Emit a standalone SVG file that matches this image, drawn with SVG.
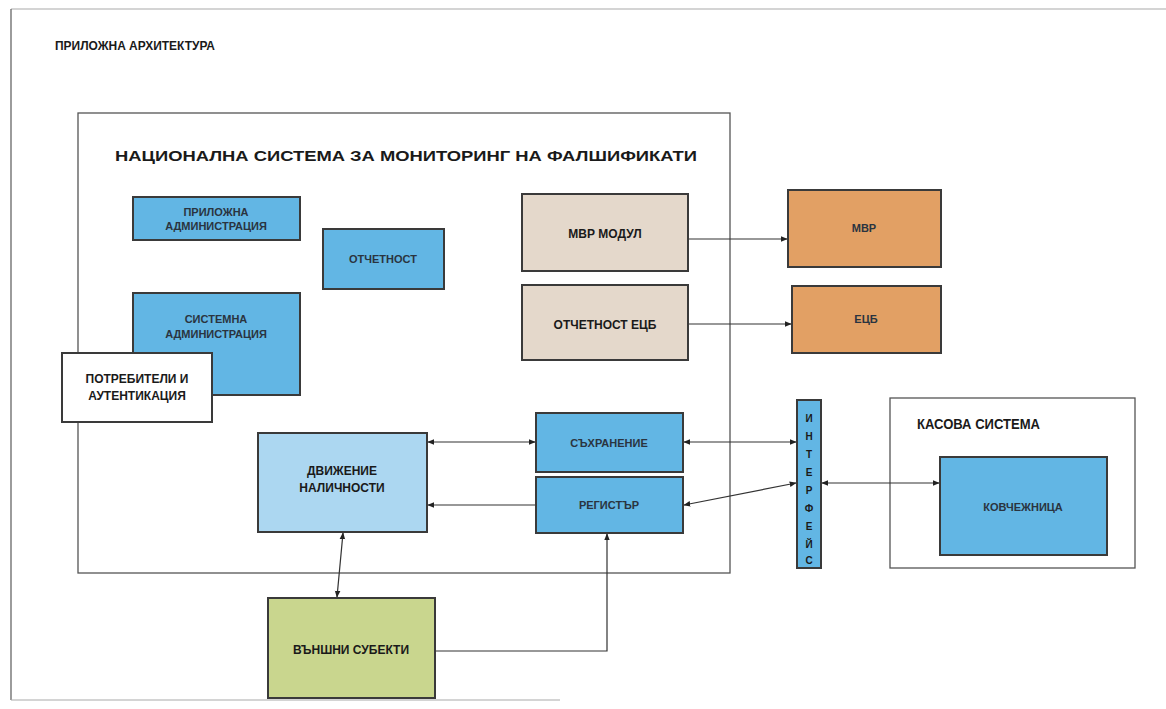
<svg xmlns="http://www.w3.org/2000/svg" width="1166" height="709" viewBox="0 0 1166 709">
<defs>
<marker id="ah" viewBox="0 0 10 10" refX="9" refY="5" markerWidth="7" markerHeight="7" orient="auto-start-reverse" markerUnits="userSpaceOnUse">
<path d="M0,1 L10,5 L0,9 z" fill="#222"/>
</marker>
<style>
.t{font-family:"Liberation Sans","Open Sans",Arial,sans-serif;font-weight:bold;fill:#1a1a1a}
.b{font-size:12px;text-anchor:middle}
.s{font-size:11px;fill:#2a3440}
.box{stroke:#3a3a3a;stroke-width:2}
.blue{fill:#62b6e4}
.lblue{fill:#acd7f1}
.beige{fill:#e4d8cb}
.orange{fill:#e2a064}
.green{fill:#c9d68e}
.white{fill:#ffffff}
.frame{fill:none;stroke:#555;stroke-width:1.3}
.c{fill:none;stroke:#333;stroke-width:1.2}
</style>
</defs>
<rect width="1166" height="709" fill="#ffffff"/>
<g id="page-frame">
<path fill="none" stroke="#aaa" stroke-width="1.2" d="M11,9 H1166"/>
<path fill="none" stroke="#666" stroke-width="1.3" d="M11,9 V700"/>
<path fill="none" stroke="#aaa" stroke-width="1.2" d="M11,700 H560"/>
<text class="t" x="55" y="50" font-size="12" textLength="160" lengthAdjust="spacingAndGlyphs">ПРИЛОЖНА АРХИТЕКТУРА</text>
</g>
<g id="nsmf">
<rect class="frame" x="78" y="113" width="652" height="460"/>
<text class="t" x="115" y="161" font-size="15" textLength="582" lengthAdjust="spacingAndGlyphs">НАЦИОНАЛНА СИСТЕМА ЗА МОНИТОРИНГ НА ФАЛШИФИКАТИ</text>
</g>
<g id="kasova">
<rect class="frame" x="890" y="398" width="245" height="170"/>
<text class="t" x="917" y="429" font-size="14" textLength="123" lengthAdjust="spacingAndGlyphs">КАСОВА СИСТЕМА</text>
</g>
<g id="connectors">
<line class="c" x1="688" y1="239" x2="787" y2="239" marker-end="url(#ah)"/>
<line class="c" x1="688" y1="324" x2="791" y2="324" marker-end="url(#ah)"/>
<line class="c" x1="428" y1="442" x2="535" y2="442" marker-start="url(#ah)" marker-end="url(#ah)"/>
<line class="c" x1="536" y1="505" x2="428" y2="505" marker-end="url(#ah)"/>
<line class="c" x1="684" y1="442" x2="796" y2="442" marker-start="url(#ah)" marker-end="url(#ah)"/>
<line class="c" x1="684" y1="505" x2="796" y2="483" marker-start="url(#ah)" marker-end="url(#ah)"/>
<line class="c" x1="822" y1="483" x2="939" y2="483" marker-start="url(#ah)" marker-end="url(#ah)"/>
<line class="c" x1="343" y1="533" x2="337" y2="597" marker-start="url(#ah)" marker-end="url(#ah)"/>
<path class="c" d="M436,651 H607 V534" marker-end="url(#ah)"/>
</g>
<g id="prilozhna-admin">
<rect class="box blue" x="133" y="197" width="167" height="43"/>
<text class="t b s" x="216" y="216">ПРИЛОЖНА</text>
<text class="t b s" x="216" y="230">АДМИНИСТРАЦИЯ</text>
</g>
<g id="otchetnost">
<rect class="box blue" x="323" y="229" width="121" height="60"/>
<text class="t b s" x="383" y="263">ОТЧЕТНОСТ</text>
</g>
<g id="sistemna-admin">
<rect class="box blue" x="133" y="293" width="167" height="102"/>
<text class="t b s" x="216" y="323">СИСТЕМНА</text>
<text class="t b s" x="216" y="338">АДМИНИСТРАЦИЯ</text>
</g>
<g id="potrebiteli">
<rect class="box white" x="62" y="353" width="150" height="69" stroke-width="1.3"/>
<text class="t b" x="137" y="383">ПОТРЕБИТЕЛИ И</text>
<text class="t b" x="137" y="400">АУТЕНТИКАЦИЯ</text>
</g>
<g id="mvr-modul">
<rect class="box beige" x="522" y="194" width="166" height="77"/>
<text class="t b" x="605" y="238">МВР МОДУЛ</text>
</g>
<g id="otchetnost-ecb">
<rect class="box beige" x="522" y="285" width="166" height="75"/>
<text class="t b" x="605" y="329">ОТЧЕТНОСТ ЕЦБ</text>
</g>
<g id="mvr">
<rect class="box orange" x="788" y="190" width="153" height="77"/>
<text class="t b s" x="864" y="232">МВР</text>
</g>
<g id="ecb">
<rect class="box orange" x="792" y="286" width="149" height="67"/>
<text class="t b s" x="866" y="323">ЕЦБ</text>
</g>
<g id="dvizhenie">
<rect class="box lblue" x="258" y="433" width="169" height="99"/>
<text class="t b" x="342" y="475">ДВИЖЕНИЕ</text>
<text class="t b" x="342" y="492">НАЛИЧНОСТИ</text>
</g>
<g id="sahranenie">
<rect class="box blue" x="536" y="413" width="147" height="59"/>
<text class="t b s" x="609" y="447">СЪХРАНЕНИЕ</text>
</g>
<g id="registar">
<rect class="box blue" x="536" y="477" width="147" height="56"/>
<text class="t b s" x="609" y="509">РЕГИСТЪР</text>
</g>
<g id="interfeys">
<rect class="box blue" x="797" y="400" width="24" height="168"/>
<text class="t" font-size="10" text-anchor="middle" fill="#2a3440">
<tspan x="809" y="422">И</tspan><tspan x="809" y="440">Н</tspan><tspan x="809" y="458">Т</tspan><tspan x="809" y="476">Е</tspan><tspan x="809" y="494">Р</tspan><tspan x="809" y="512">Ф</tspan><tspan x="809" y="530">Е</tspan><tspan x="809" y="548">Й</tspan><tspan x="809" y="564">С</tspan>
</text>
</g>
<g id="kovchezhnica">
<rect class="box blue" x="940" y="457" width="167" height="98"/>
<text class="t b s" x="1023" y="511">КОВЧЕЖНИЦА</text>
</g>
<g id="vanshni">
<rect class="box green" x="268" y="598" width="167" height="100"/>
<text class="t b" x="351" y="654">ВЪНШНИ СУБЕКТИ</text>
</g>
</svg>
